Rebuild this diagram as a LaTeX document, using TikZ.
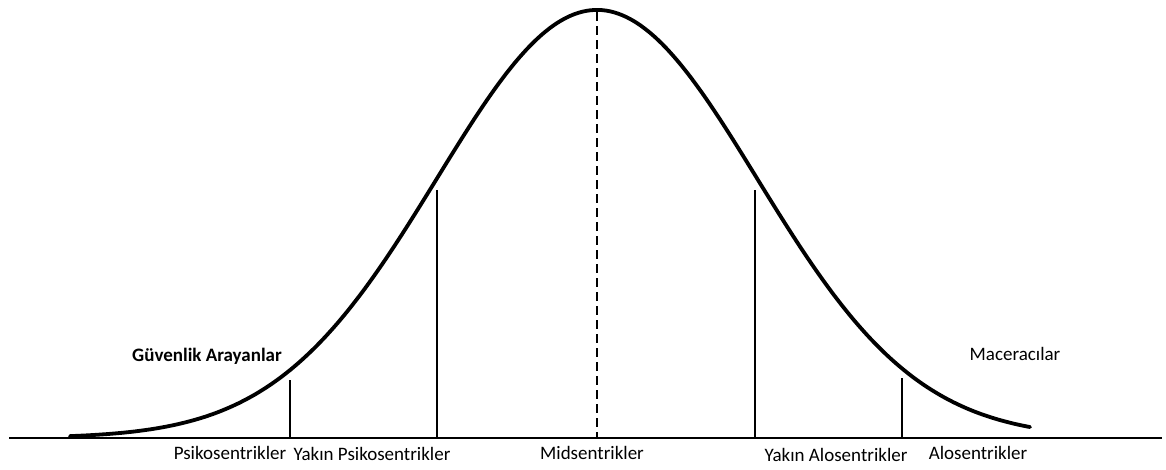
\documentclass[tikz,border=0pt]{standalone}
\usepackage{fontspec}
\setmainfont{Carlito}
\usetikzlibrary{positioning}

\begin{document}
\begin{tikzpicture}[
    x=1pt, y=-1pt,
    lbl/.style={font=\fontsize{19}{22}\selectfont, inner sep=0pt},
    grp/.style={lbl, font=\fontsize{19}{22}\selectfont\bfseries},
    bell/.style={line width=3.8pt, line cap=round, line join=round},
    cut/.style={line width=2.8pt},
    mid/.style={line width=2.8pt, dash pattern=on 9pt off 5pt},
]
\useasboundingbox[fill=white] (0,0) rectangle (1166,469);

% axis
\coordinate (axL) at (9,438);
\coordinate (axR) at (1162,438);
\draw[line width=2.2pt] (axL) -- (axR);

% curve
\draw[bell] plot[domain=70:1030, samples=241, smooth]
    (\x, {438-428*exp(-0.5*((\x-597)/160)^2)});

% cut lines
\coordinate (c1b) at (290,438);  \coordinate (c1t) at (290,380);
\coordinate (c2b) at (437,438);  \coordinate (c2t) at (437,190);
\coordinate (c3b) at (755,438);  \coordinate (c3t) at (755,190);
\coordinate (c4b) at (902,438);  \coordinate (c4t) at (902,378);
\coordinate (mb) at (597,438);   \coordinate (mt) at (597,12);
\draw[cut] (c1b) -- (c1t);
\draw[cut] (c2b) -- (c2t);
\draw[cut] (c3b) -- (c3t);
\draw[cut] (c4b) -- (c4t);
\draw[mid] (mt) -- (mb);

% labels
\node[lbl] (psiko) at (230,453) {Psikosentrikler};
\node[lbl] (ypsiko) at (372,454) {Yakın Psikosentrikler};
\node[lbl] (midsen) at (592,453) {Midsentrikler};
\node[lbl] (yalo) at (836,455) {Yakın Alosentrikler};
\node[lbl] (alo) at (978,453) {Alosentrikler};
\node[grp] (guven) at (207,356) {Güvenlik Arayanlar};
\node[lbl] (macera) at (1015,354) {Maceracılar};
\end{tikzpicture}
\end{document}
